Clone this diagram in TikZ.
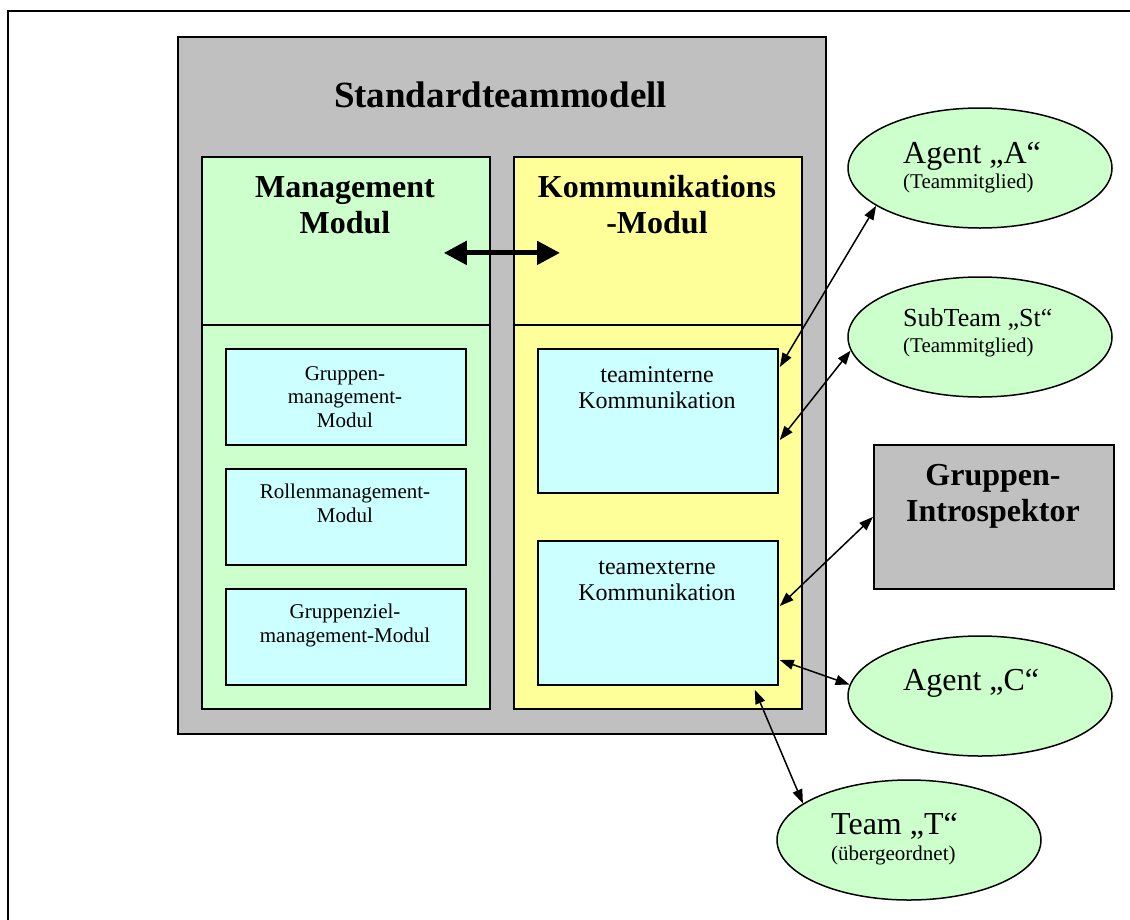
\documentclass[tikz,border=0pt]{standalone}
\usepackage{fontspec}
\setmainfont{Liberation Serif}
\usetikzlibrary{shapes.geometric,arrows.meta,calc}

\definecolor{boxgray}{HTML}{C0C0C0}
\definecolor{mgreen}{HTML}{CCFFCC}
\definecolor{kyellow}{HTML}{FFFF99}
\definecolor{subcyan}{HTML}{CCFFFF}

\tikzset{
  box/.style={draw, line width=1.8pt, inner sep=0pt, anchor=north west},
  agent/.style={ellipse, draw, line width=1.5pt, fill=mgreen, inner sep=0pt,
    minimum width=264pt, minimum height=120pt},
  lbl/.style={anchor=base, inner sep=0pt},
  lbll/.style={anchor=base west, inner sep=0pt},
  big/.style={font=\fontsize{32}{35}\selectfont},
  bigb/.style={font=\fontsize{32}{35}\selectfont\bfseries},
  mid/.style={font=\fontsize{24}{26}\selectfont},
  sml/.style={font=\fontsize{21}{23}\selectfont},
  link/.style={line width=1.5pt,
    {Triangle[length=14pt,width=10pt]}-{Triangle[length=14pt,width=10pt]}},
}

\begin{document}
\begin{tikzpicture}[x=1pt,y=-1pt]
\useasboundingbox (0,0) rectangle (1130,919);

% outer frame (runs past the right and bottom edges)
\draw[line width=2pt] (8,11) rectangle (1150,940);

% standard team model container
\node[box, fill=boxgray, minimum width=648pt, minimum height=697pt] (std) at (177,36) {};
\node[lbl, font=\fontsize{37}{40}\selectfont\bfseries] (stdT) at (500.5,107) {Standardteammodell};

% management module
\node[box, fill=mgreen, minimum width=288pt, minimum height=168pt] (mmh) at (201,156) {};
\node[box, fill=mgreen, minimum width=288pt, minimum height=384pt] (mmb) at (201,324) {};
\node[lbl, bigb] (mmT1) at (345,197) {Management};
\node[lbl, bigb] (mmT2) at (345,233) {Modul};

% communication module
\node[box, fill=kyellow, minimum width=288pt, minimum height=168pt] (kmh) at (513,156) {};
\node[box, fill=kyellow, minimum width=288pt, minimum height=384pt] (kmb) at (513,324) {};
\node[lbl, bigb] (kmT1) at (657,197) {Kommunikations};
\node[lbl, bigb] (kmT2) at (657,233) {-Modul};

% management sub-modules
\node[box, fill=subcyan, minimum width=240pt, minimum height=96pt] (g1) at (225,348) {};
\node[box, fill=subcyan, minimum width=240pt, minimum height=96pt] (g2) at (225,468) {};
\node[box, fill=subcyan, minimum width=240pt, minimum height=96pt] (g3) at (225,588) {};
\node[lbl, sml] (g1a) at (345,380) {Gruppen-};
\node[lbl, sml] (g1b) at (345,403.5) {management-};
\node[lbl, sml] (g1c) at (345,427) {Modul};
\node[lbl, sml] (g2a) at (345,498) {Rollenmanagement-};
\node[lbl, sml] (g2b) at (345,522) {Modul};
\node[lbl, sml] (g3a) at (345,618) {Gruppenziel-};
\node[lbl, sml] (g3b) at (345,642) {management-Modul};

% communication sub-modules
\node[box, fill=subcyan, minimum width=240pt, minimum height=144pt] (ti) at (537,348) {};
\node[box, fill=subcyan, minimum width=240pt, minimum height=144pt] (te) at (537,540) {};
\node[lbl, mid] (tiA) at (657,382) {teaminterne};
\node[lbl, mid] (tiB) at (657,408) {Kommunikation};
\node[lbl, mid] (teA) at (657,574) {teamexterne};
\node[lbl, mid] (teB) at (657,600) {Kommunikation};

% group introspector
\node[box, fill=boxgray, minimum width=240pt, minimum height=144pt] (gi) at (873,444) {};
\node[lbl, bigb] (giA) at (993,485) {Gruppen-};
\node[lbl, bigb] (giB) at (993,521) {Introspektor};

% agents and teams
\node[agent] (agA) at (980,168) {};
\node[lbll, big] (agAT) at (903,163) {Agent „A“};
\node[lbll, sml] (agAS) at (903,188) {(Teammitglied)};

\node[agent] (sub) at (980,337) {};
\node[lbll, font=\fontsize{26}{28}\selectfont] (subT) at (903,326) {SubTeam „St“};
\node[lbll, sml] (subS) at (903,352) {(Teammitglied)};

\node[agent] (agC) at (980,696) {};
\node[lbll, big] (agCT) at (903,690) {Agent „C“};

\node[agent] (tT) at (909,840) {};
\node[lbll, big] (tTT) at (831,834) {Team „T“};
\node[lbll, sml] (tTS) at (831,860) {(übergeordnet)};

% module interaction
\draw[line width=5pt, {Triangle[length=23pt,width=23pt]}-{Triangle[length=23pt,width=23pt]}]
  ($(mmh.east)+(-47,12)$) -- ($(kmh.west)+(47,12)$);

% communication links
\draw[link] ($(ti.north east)+(1,19)$) -- (agA.200);
\draw[link] ($(ti.north east)+(1,92)$) -- (sub.186);
\draw[link] ($(te.north east)+(1,66)$) -- (gi.west);
\draw[link] ($(te.north east)+(1,120)$) -- (agC.175);
\draw[link] ($(te.south east)+(-24,4)$) -- (tT.161);
\end{tikzpicture}
\end{document}
